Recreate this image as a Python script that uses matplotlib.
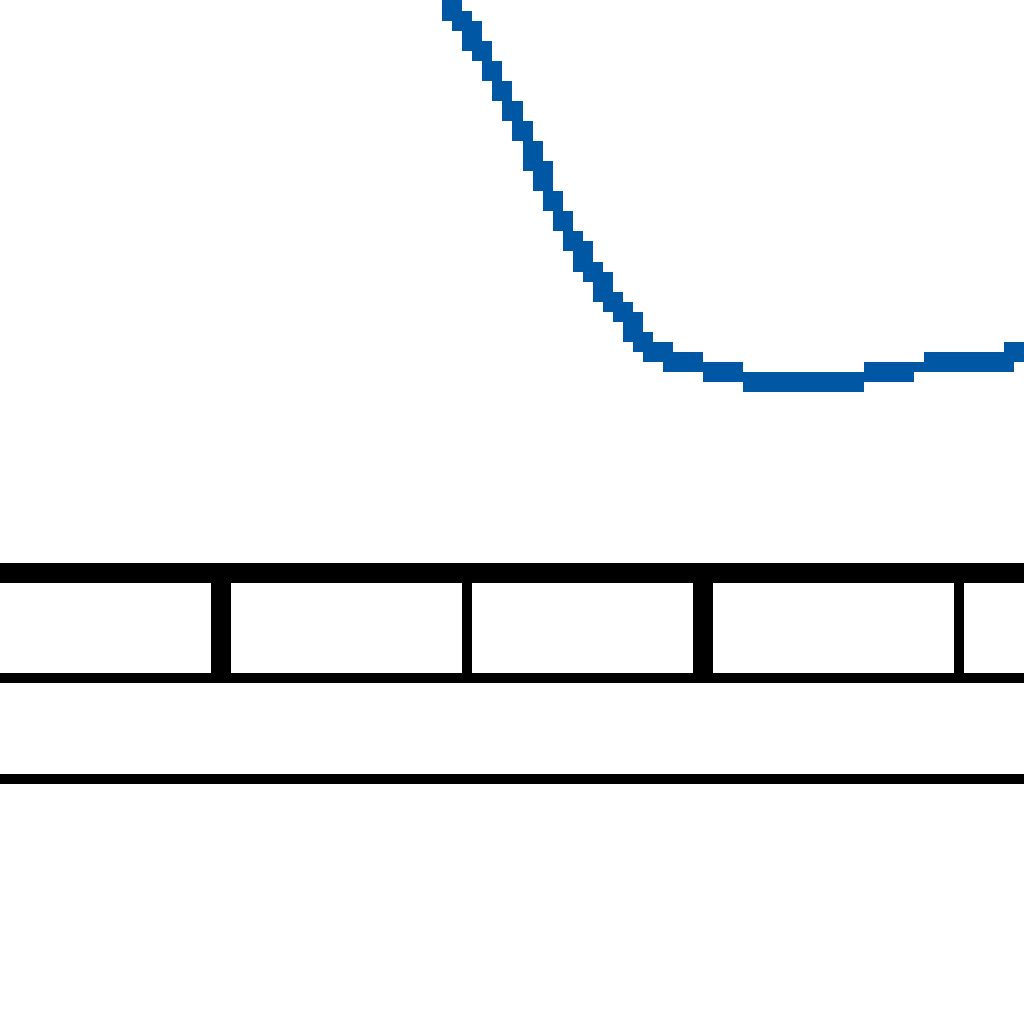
import matplotlib
matplotlib.use('Agg')
import matplotlib.pyplot as plt
import numpy as np

# curve values (x in tick units, y as fraction of the plot height)
x_vals = [0.881, 0.922, 0.959, 1.000, 1.041, 1.082, 1.123, 1.165, 1.206, 1.247,
          1.288, 1.329, 1.370, 1.412, 1.453, 1.494, 1.535, 1.576, 1.626, 1.675,
          1.737, 1.815, 1.922, 2.045, 2.210, 2.374, 2.580, 2.786, 2.992, 3.198, 3.321]
y_vals = [1.035, 1.000, 0.983, 0.956, 0.927, 0.901, 0.868, 0.833, 0.798, 0.763,
          0.721, 0.676, 0.641, 0.606, 0.571, 0.544, 0.519, 0.491, 0.467, 0.436,
          0.404, 0.378, 0.362, 0.352, 0.335, 0.331, 0.335, 0.352, 0.364, 0.369, 0.385]
tick_pos = [0, 1, 2, 3]
tick_widths = [14.4, 7.2, 14.4, 7.2]

line_color = '#0057A3'

# the reference is a coarse (pixelated) render, so draw small and blow it up
fig = plt.figure(figsize=(10.24, 10.24), dpi=10)

# main plot area, only the bottom spine is visible
ax = fig.add_axes([0, 1 - 574 / 1024, 1, 574 / 1024])
ax.plot(x_vals, y_vals, color=line_color, linewidth=5.5, antialiased=False)
ax.set_xlim(-0.898, 3.316)
ax.set_ylim(0, 1)
for side in ['top', 'left', 'right']:
    ax.spines[side].set_visible(False)
ax.spines['bottom'].set_linewidth(14.4)
ax.spines['bottom'].set_color('black')
ax.spines['bottom'].set_antialiased(False)
ax.set_yticks([])
ax.set_xticks(tick_pos)
ax.set_xticklabels([])
ax.tick_params(axis='x', direction='out', length=75, color='black')
for t, tw in zip(ax.xaxis.get_major_ticks(), tick_widths):
    t.tick1line.set_markeredgewidth(tw)
    t.tick1line.set_antialiased(False)
ax.patch.set_visible(False)

# the band below the axis
band = fig.add_axes([0, 1 - 778 / 1024, 1, 100 / 1024])
band.set_xticks([])
band.set_yticks([])
for side in ['left', 'right']:
    band.spines[side].set_visible(False)
for side in ['top', 'bottom']:
    band.spines[side].set_linewidth(7.2)
    band.spines[side].set_color('black')
    band.spines[side].set_antialiased(False)
band.patch.set_visible(False)

fig.canvas.draw()
small = np.asarray(fig.canvas.buffer_rgba())
h, w = small.shape[:2]
rows = (np.arange(1024) * h / 1024).astype(int)
cols = (np.arange(1024) * w / 1024).astype(int)
big = small[rows][:, cols]
plt.imsave('out.png', big)
